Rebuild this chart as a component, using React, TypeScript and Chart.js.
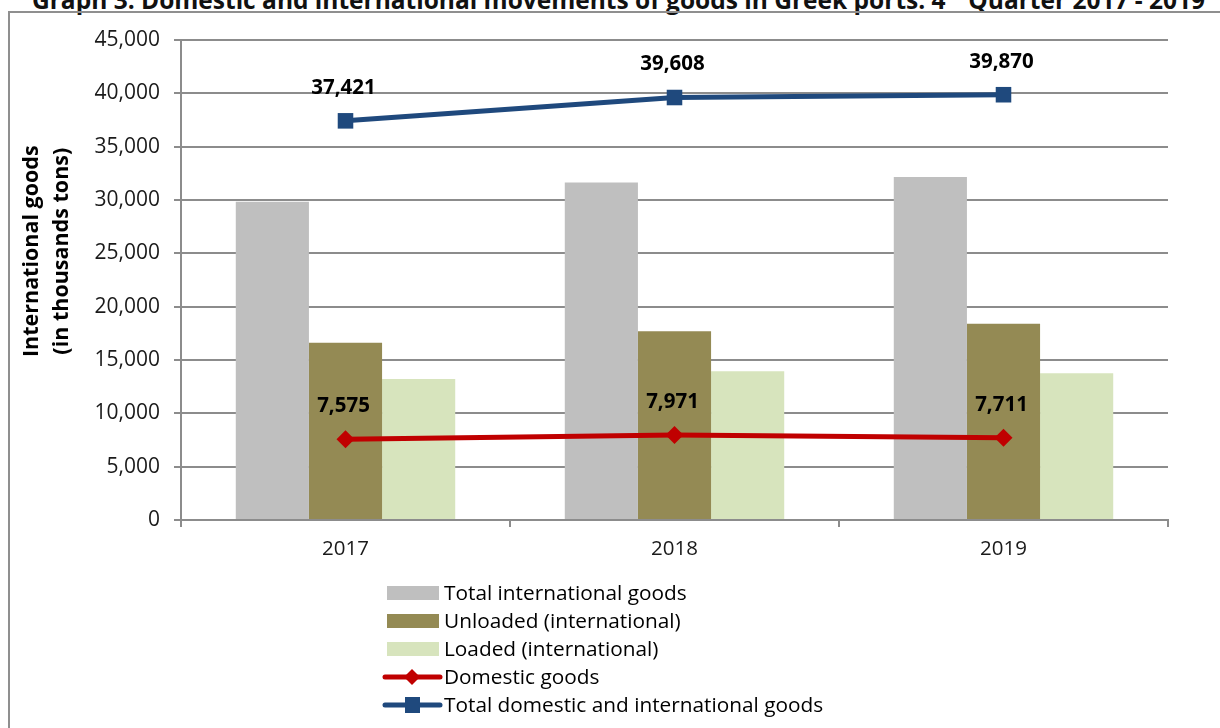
import React, { useEffect, useRef } from "react";
import { Chart, registerables } from "chart.js";

Chart.register(...registerables);

// ---- data ----
const years = ["2017", "2018", "2019"];
const totalInternational = [29846, 31637, 32159];
const unloadedInternational = [16620, 17700, 18400];
const loadedInternational = [13226, 13940, 13760];
const domesticGoods = [7575, 7971, 7711];
const totalDomesticInternational = [37421, 39608, 39870];

const seriesLabels = [
  "Total international goods",
  "Unloaded (international)",
  "Loaded (international)",
  "Domestic goods",
  "Total domestic and international goods",
];
const yAxisTitleLines = ["International goods", "(in thousands tons)"];
const yMin = 0;
const yMax = 45000;
const yStep = 5000;

// ---- styles ----
const FONT = "'Open Sans', 'Noto Sans', sans-serif";
const GRID = "#8c8c8c";
const TEXT = "#1a1a1a";
const colGray = "#BFBFBF";
const colOlive = "#948A54";
const colLight = "#D7E4BD";
const colRed = "#C00000";
const colBlue = "#1F497D";

const fmt = (v: number) => v.toLocaleString("en-US");

const labelsPlugin = {
  id: "pointLabels",
  afterDatasetsDraw(chart: any) {
    const ctx = chart.ctx;
    ctx.save();
    ctx.font = `bold 20.5px ${FONT}`;
    ctx.fillStyle = "#000";
    ctx.textAlign = "center";
    ctx.textBaseline = "middle";
    chart.data.datasets.forEach((ds: any, i: number) => {
      if (ds.type !== "line") return;
      const meta = chart.getDatasetMeta(i);
      meta.data.forEach((pt: any, j: number) => {
        ctx.fillText(fmt(ds.data[j]), pt.x - 2, pt.y - 33);
      });
    });
    ctx.restore();
  },
};

const yTitlePlugin = {
  id: "yTitle",
  afterDraw(chart: any) {
    const ctx = chart.ctx;
    const a = chart.chartArea;
    const cy = a.top + (a.bottom - a.top) * 0.44;
    ctx.save();
    ctx.font = `bold 21.5px ${FONT}`;
    ctx.fillStyle = "#000";
    ctx.textAlign = "center";
    ctx.textBaseline = "middle";
    const xs = [32, 62];
    yAxisTitleLines.forEach((line, i) => {
      ctx.save();
      ctx.translate(xs[i], cy);
      ctx.rotate(-Math.PI / 2);
      ctx.fillText(line, 0, 0);
      ctx.restore();
    });
    ctx.restore();
  },
};

const legendPlugin = {
  id: "customLegend",
  afterDraw(chart: any) {
    const ctx = chart.ctx;
    const top = 593;
    const rowH = 28;
    ctx.save();
    chart.data.datasets.forEach((ds: any, i: number) => {
      const y = top + i * rowH;
      if (ds.type === "line") {
        ctx.strokeStyle = ds.borderColor;
        ctx.lineWidth = 5;
        ctx.lineCap = "round";
        ctx.beginPath();
        ctx.moveTo(385, y);
        ctx.lineTo(440, y);
        ctx.stroke();
        ctx.fillStyle = ds.borderColor;
        ctx.beginPath();
        if (ds.pointStyle === "rectRot") {
          ctx.moveTo(412, y - 8);
          ctx.lineTo(420, y);
          ctx.lineTo(412, y + 8);
          ctx.lineTo(404, y);
          ctx.closePath();
        } else {
          ctx.rect(405, y - 8, 15, 16);
        }
        ctx.fill();
      } else {
        ctx.fillStyle = ds.backgroundColor;
        ctx.fillRect(387, y - 7, 52, 14);
      }
      ctx.fillStyle = "#000";
      ctx.font = `20.8px ${FONT}`;
      ctx.textAlign = "left";
      ctx.textBaseline = "middle";
      ctx.fillText(ds.label, 444, y + 1);
    });
    ctx.restore();
  },
};

function ChartCanvas() {
  const ref = useRef<HTMLCanvasElement | null>(null);
  useEffect(() => {
    if (!ref.current) return;
    const chart = new Chart(ref.current, {
      type: "bar",
      data: {
        labels: years,
        datasets: [
          { type: "bar", label: seriesLabels[0], data: totalInternational, backgroundColor: colGray, order: 2 },
          { type: "bar", label: seriesLabels[1], data: unloadedInternational, backgroundColor: colOlive, order: 2 },
          { type: "bar", label: seriesLabels[2], data: loadedInternational, backgroundColor: colLight, order: 2 },
          {
            type: "line", label: seriesLabels[3], data: domesticGoods,
            borderColor: colRed, backgroundColor: colRed, borderWidth: 5,
            pointStyle: "rectRot", pointRadius: 9, pointBackgroundColor: colRed,
            pointBorderColor: colRed, pointBorderWidth: 0, tension: 0, order: 0,
          },
          {
            type: "line", label: seriesLabels[4], data: totalDomesticInternational,
            borderColor: colBlue, backgroundColor: colBlue, borderWidth: 5,
            pointStyle: "rect", pointRadius: 11, pointBackgroundColor: colBlue,
            pointBorderColor: colBlue, pointBorderWidth: 0, tension: 0, order: 0,
          },
        ] as any,
      },
      options: {
        responsive: false,
        maintainAspectRatio: false,
        animation: false,
        layout: { padding: { top: 40, right: 52, bottom: 168, left: 0 } },
        datasets: { bar: { categoryPercentage: 0.667, barPercentage: 1 } } as any,
        plugins: { legend: { display: false }, tooltip: { enabled: false }, title: { display: false } },
        scales: {
          x: {
            offset: true,
            grid: { offset: true, drawOnChartArea: false, drawTicks: true, tickLength: 7, color: GRID, lineWidth: 2 },
            border: { color: GRID, width: 2 },
            ticks: { color: TEXT, font: { family: FONT, size: 20.5 }, padding: 10 },
            afterFit: (s: any) => { s.height = 40; },
          },
          y: {
            min: yMin,
            max: yMax,
            grid: { color: GRID, lineWidth: 2, tickLength: 7, tickColor: GRID },
            border: { color: GRID, width: 2 },
            ticks: {
              stepSize: yStep,
              color: TEXT,
              font: { family: FONT, size: 21 },
              padding: 14,
              callback: (v: any) => fmt(Number(v)),
            },
            afterFit: (s: any) => { s.width = 181; },
          },
        },
      },
      plugins: [labelsPlugin, yTitlePlugin, legendPlugin],
    });
    return () => chart.destroy();
  }, []);
  return <canvas ref={ref} width={1220} height={728} style={{ position: "absolute", left: 0, top: 0 }} />;
}

export default function App() {
  return (
    <div style={{ position: "fixed", left: 0, top: 0, width: 1220, height: 728, overflow: "hidden", background: "#fff" }}>
      <div
        style={{
          position: "absolute", left: 32, top: -18, whiteSpace: "nowrap",
          font: `bold 24.5px/24.5px ${FONT}`, color: "#111",
        }}
      >
        Graph 3. Domestic and international movements of goods in Greek ports: 4<sup style={{ fontSize: 15 }}>th</sup> Quarter 2017 - 2019
      </div>
      <div
        style={{
          position: "absolute", left: 8, top: 11, width: 1240, height: 740,
          border: "2px solid #8f8f8f", boxSizing: "border-box",
        }}
      />
      <ChartCanvas />
    </div>
  );
}
